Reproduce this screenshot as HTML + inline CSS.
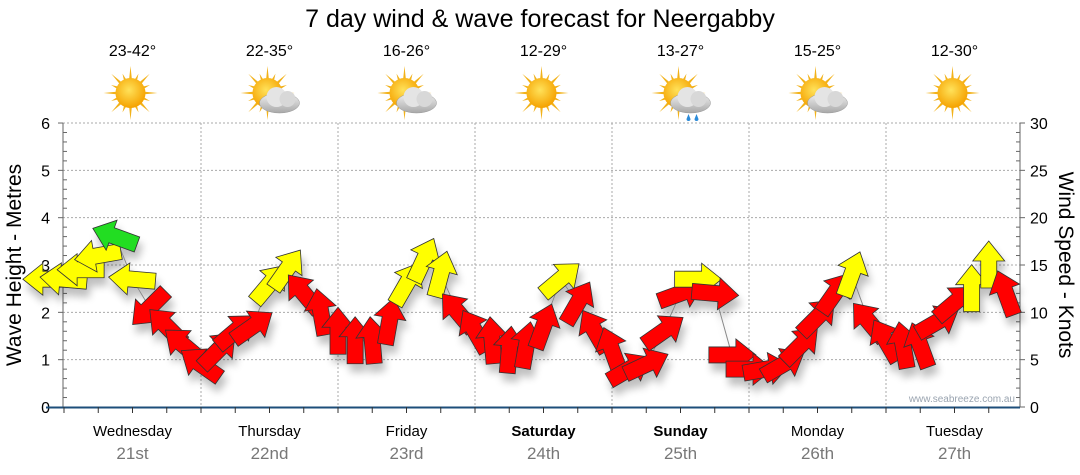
<!DOCTYPE html>
<html><head><meta charset="utf-8"><style>
body{margin:0;background:#fff;width:1080px;height:475px;overflow:hidden;font-family:"Liberation Sans","DejaVu Sans",sans-serif}
svg{display:block}
</style></head><body>
<svg id="chart" width="1080" height="475" viewBox="0 0 1080 475" xmlns="http://www.w3.org/2000/svg">
<defs>
<radialGradient id="sunG" cx="45%" cy="40%" r="60%"><stop offset="0" stop-color="#ffe25a"/><stop offset="1" stop-color="#f5a200"/></radialGradient>
<linearGradient id="cloudG" x1="0" y1="0" x2="0" y2="1"><stop offset="0" stop-color="#f2f2f2"/><stop offset="1" stop-color="#a8a8a8"/></linearGradient>
<filter id="shadow" x="-50%" y="-50%" width="200%" height="200%"><feGaussianBlur in="SourceAlpha" stdDeviation="4"/><feOffset dx="3" dy="8"/><feComponentTransfer><feFuncA type="linear" slope="0.25"/></feComponentTransfer><feMerge><feMergeNode/><feMergeNode in="SourceGraphic"/></feMerge></filter>
</defs>
<text x="540" y="27" font-size="25" text-anchor="middle" fill="#000">7 day wind &amp; wave forecast for Neergabby</text>
<g id="icons"></g>
<g id="grid"></g>
<g id="axes"></g>
<g id="series" filter="url(#shadow)"></g>
<text x="1015" y="402" font-size="10" text-anchor="end" fill="#9aa4b0">www.seabreeze.com.au</text>
<text transform="translate(21,265) rotate(-90)" font-size="21" text-anchor="middle">Wave Height - Metres</text>
<text transform="translate(1059,265) rotate(90)" font-size="21" text-anchor="middle">Wind Speed - Knots</text>
</svg>
<script>
const days=["Wednesday","Thursday","Friday","Saturday","Sunday","Monday","Tuesday"];
const dates=["21st","22nd","23rd","24th","25th","26th","27th"];
const boldDays=[false,false,false,true,true,false,false];
const temps=["23-42°","22-35°","16-26°","12-29°","13-27°","15-25°","12-30°"];
const icons=["sun","cloud","cloud","sun","rain","cloud","sun"];
const waveTicks=[0,1,2,3,4,5,6];
const windTicks=[0,5,10,15,20,25,30];
const hours=[-3,0,3,6,9,12,15,18,21,24,27,30,33,36,39,42,45,48,51,54,57,60,63,66,69,72,75,78,81,84,87,90,93,96,99,102,105,108,111,114,117,120,123,126,129,132,135,138,141,144,147,150,153,156,159,162,165];
const windSpeed=[13.5,13.5,14.5,16,18,13.5,10.5,8.5,6.5,4.5,6,8,8.5,13,14.5,12,10,8,7,7,9,13,15.5,14,10,8,7,6,6.5,8.5,13.5,11,8,6,4,4.5,8,12,13.5,12,5.5,4,4,4.5,6.5,9.5,12,14,9,7,6.5,6.5,9,11,12.5,15,12,9.5];
const windDir=[180,185,180,170,200,185,135,-135,-140,-145,-45,-40,-35,-50,-55,-130,-100,-90,-90,-95,-80,-60,-65,-75,-130,-120,-95,-85,-80,-70,-40,-60,-120,-110,-30,-25,-35,-20,0,5,0,0,-10,-30,-45,-45,-55,-70,-130,-120,-100,-110,-30,-40,-90,-90,-110,-120];
const x0=64, pxPerHour=137/24, yBase=407, pxPerMetre=47.33, pxPerKnot=284/30;
const X=h=>x0+h*pxPerHour;
const YW=m=>yBase-m*pxPerMetre;
const YK=k=>yBase-k*pxPerKnot;
const NS="http://www.w3.org/2000/svg";
function mk(tag,attrs,parent){const e=document.createElementNS(NS,tag);for(const k in attrs)e.setAttribute(k,attrs[k]);parent.appendChild(e);return e;}
const grid=document.getElementById('grid'),axes=document.getElementById('axes'),series=document.getElementById('series'),iconG=document.getElementById('icons');
waveTicks.forEach((m,i)=>{
  if(m>0){const l=mk('line',{x1:63,x2:1020,y1:YW(m),y2:YW(m),stroke:'#aaa','stroke-dasharray':'2,2'},grid);
  
  }
  const t=mk('text',{x:50,y:YW(m)+6,'font-size':16,'text-anchor':'end'},axes);t.textContent=m;
  
  
});
windTicks.forEach(k=>{
  const t=mk('text',{x:1030,y:YK(k)+6,'font-size':16},axes);t.textContent=k;
  
  
});
for(let m=0;m<=6.001;m+=0.2){mk('line',{x1:63,x2:(Math.abs(m-Math.round(m))<0.01?58:67),y1:YW(m),y2:YW(m),stroke:'#666'},axes);}
for(let k=0;k<=30;k+=1){mk('line',{x1:1020,x2:(k%5==0?1025:1016),y1:YK(k),y2:YK(k),stroke:'#666'},axes);}
mk('line',{x1:63,x2:63,y1:123,y2:407,stroke:'#666'},axes);
mk('line',{x1:1020,x2:1020,y1:123,y2:407,stroke:'#666'},axes);
mk('line',{x1:46,x2:1020,y1:407.5,y2:407.5,stroke:'#1d4e7a','stroke-width':2},axes);
for(let h=0;h<168;h+=6){mk('line',{x1:X(h),x2:X(h),y1:407,y2:413,stroke:'#333'},axes);}
for(let d=0;d<7;d++){
  if(d>0){const l=mk('line',{x1:X(d*24),x2:X(d*24),y1:123,y2:407,stroke:'#aaa','stroke-dasharray':'2,2'},grid);
  
  }
  const cx=X(d*24+12);
  const t=mk('text',{x:cx,y:436,'font-size':15,'text-anchor':'middle','font-weight':boldDays[d]?'bold':'normal'},axes);t.textContent=days[d];
  
  
  const t2=mk('text',{x:cx,y:459,'font-size':17,'text-anchor':'middle',fill:'#777'},axes);t2.textContent=dates[d];
  
  
  const t3=mk('text',{x:cx,y:56,'font-size':16,'text-anchor':'middle'},iconG);t3.textContent=temps[d];
  
  
  const g=mk('g',{transform:`translate(${cx-2},93)`},iconG);
  
  
  for(let r=0;r<16;r++){const a=r*Math.PI/8,L=r%2?21:27;
    mk('polygon',{points:`${Math.cos(a)*L},${Math.sin(a)*L} ${Math.cos(a+0.13)*12},${Math.sin(a+0.13)*12} ${Math.cos(a-0.13)*12},${Math.sin(a-0.13)*12}`,fill:'#f2b21a'},g);}
  mk('circle',{r:15,fill:'url(#sunG)'},g);
  if(icons[d]!='sun'){
    const c=mk('g',{transform:'translate(12,6)'},g);
    mk('ellipse',{cx:0,cy:4,rx:20,ry:10,fill:'url(#cloudG)',stroke:'#999','stroke-width':0.5},c);
    mk('circle',{cx:-3,cy:-2,r:10,fill:'#e4e4e4'},c);
    mk('circle',{cx:8,cy:0,r:8,fill:'#d8d8d8'},c);
    if(icons[d]=='rain'){mk('path',{d:'M-2,15 l-2,5 a2,2 0 0 0 4,0z M6,15 l-2,5 a2,2 0 0 0 4,0z',fill:'#2a8ad8'},c);}
  }
}
const pts=hours.map((h,i)=>X(h)+','+YK(windSpeed[i])).join(' ');
const pl=mk('polyline',{points:pts,fill:'none',stroke:'#888','stroke-width':1},series);


hours.forEach((h,i)=>{
  const s=windSpeed[i];
  const col=s>=16.5?'#22dd22':(s>=12.5?'#ffff00':'#ff0000');
  const p=mk('polygon',{points:'-23,-8 4,-8 4,-16 24,0 4,16 4,8 -23,8',fill:col,stroke:'#333','stroke-width':0.8,
    transform:`translate(${X(h)},${YK(s)}) rotate(${windDir[i]})`},series);
  
  
});
</script>
</body></html>
